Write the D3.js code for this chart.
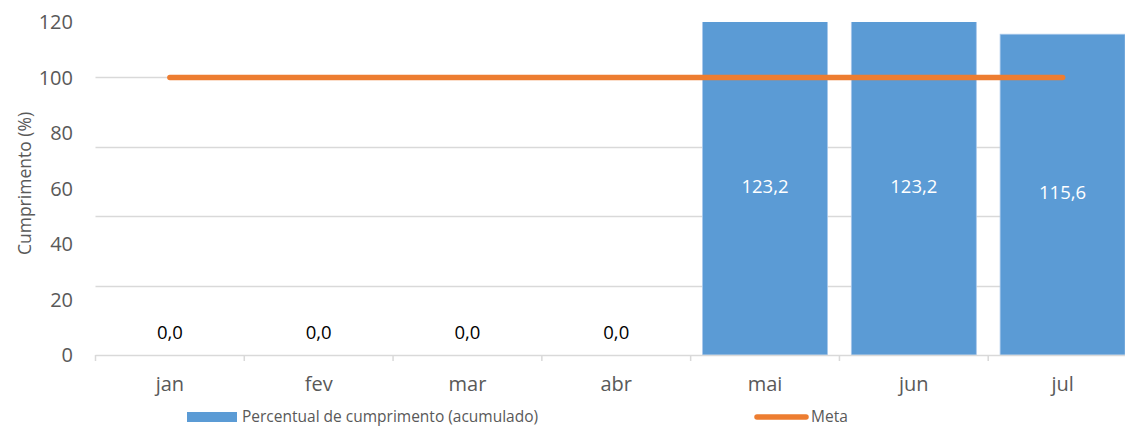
<!DOCTYPE html>
<html>
<head>
<meta charset="utf-8">
<script src="https://cdn.jsdelivr.net/npm/d3@7"></script>
<style>
  html, body { margin: 0; padding: 0; background: #fff; }
  svg { display: block; font-family: "Open Sans", "Noto Sans", sans-serif; }
</style>
</head>
<body>
<svg id="chart" width="1125" height="426"></svg>
<script>
const months = ["jan", "fev", "mar", "abr", "mai", "jun", "jul"];
const cumprimento = [0.0, 0.0, 0.0, 0.0, 123.2, 123.2, 115.6];
const meta = [100, 100, 100, 100, 100, 100, 100];
const yTicks = [0, 20, 40, 60, 80, 100, 120];
const gridValues = [25, 50, 75, 100];
const seriesNames = ["Percentual de cumprimento (acumulado)", "Meta"];
const yTitle = "Cumprimento (%)";

const svg = d3.select("#chart");
const W = 1125, H = 426;
const plot = { left: 95.5, right: 1137, top: 22, bottom: 355 };

const x = d3.scaleBand().domain(months)
  .range([plot.left, plot.right]).paddingInner(0.16).paddingOuter(0.08);
const y = d3.scaleLinear().domain([0, 120]).range([plot.bottom, plot.top]);
const step = x.step();
const fmt = v => d3.format(".1f")(v).replace(".", ",");

// clip
svg.append("defs").append("clipPath").attr("id", "plotclip")
  .append("rect").attr("x", plot.left).attr("y", plot.top)
  .attr("width", W - plot.left).attr("height", plot.bottom - plot.top);

// gridlines
svg.append("g").selectAll("line").data(gridValues).join("line")
  .attr("x1", plot.left).attr("x2", W)
  .attr("y1", d => Math.round(y(d)) + 0.5).attr("y2", d => Math.round(y(d)) + 0.5)
  .attr("stroke", "#d9d9d9").attr("stroke-width", 1.3);

// y tick labels
svg.append("g").selectAll("text").data(yTicks).join("text")
  .attr("x", 73).attr("y", d => y(d)).attr("dy", "0.36em")
  .attr("text-anchor", "end").attr("font-size", 20).attr("fill", "#595959")
  .text(d => d);

// y title
svg.append("text")
  .attr("transform", `translate(25,${(plot.top + plot.bottom) / 2 - 5}) rotate(-90)`)
  .attr("text-anchor", "middle").attr("dy", "0.35em")
  .attr("font-size", 17.5).attr("fill", "#595959").text(yTitle);

// bars
const bars = svg.append("g").attr("clip-path", "url(#plotclip)");
bars.selectAll("rect").data(months.map((m, i) => ({ m, v: cumprimento[i] })).filter(d => d.v > 0))
  .join("rect")
  .attr("x", d => x(d.m)).attr("width", x.bandwidth())
  .attr("y", d => y(d.v)).attr("height", d => y(0) - y(d.v))
  .attr("fill", "#5b9bd5").attr("stroke", "#a8c8eb").attr("stroke-width", 0.8);

// x axis line + ticks
const axis = svg.append("g");
axis.append("line").attr("x1", plot.left).attr("x2", W)
  .attr("y1", plot.bottom + 0.5).attr("y2", plot.bottom + 0.5)
  .attr("stroke", "#d9d9d9").attr("stroke-width", 1.5);
axis.selectAll("line.tick").data(months.concat(["__end"])).join("line")
  .attr("class", "tick")
  .attr("x1", (d, i) => plot.left + i * step).attr("x2", (d, i) => plot.left + i * step)
  .attr("y1", plot.bottom).attr("y2", plot.bottom + 6)
  .attr("stroke", "#d9d9d9").attr("stroke-width", 1.5);
axis.selectAll("text").data(months).join("text")
  .attr("x", d => x(d) + x.bandwidth() / 2).attr("y", 391)
  .attr("text-anchor", "middle").attr("font-size", 20).attr("fill", "#595959")
  .text(d => d);

// meta line
const line = d3.line().x((d, i) => x(months[i]) + x.bandwidth() / 2).y(d => y(d));
svg.append("path").datum(meta).attr("d", line)
  .attr("fill", "none").attr("stroke", "#ed7d31").attr("stroke-width", 5.5)
  .attr("stroke-linecap", "round");

// data labels
svg.append("g").selectAll("text").data(months.map((m, i) => ({ m, v: cumprimento[i] })))
  .join("text")
  .attr("x", d => x(d.m) + x.bandwidth() / 2)
  .attr("y", d => d.v > 0 ? (Math.max(y(d.v), plot.top) + y(0)) / 2 + 4.5 : y(0) - 16)
  .attr("text-anchor", "middle").attr("font-size", 18.5)
  .attr("fill", d => d.v > 0 ? "#ffffff" : "#000000")
  .text(d => fmt(d.v));

// legend
const lg = svg.append("g");
lg.append("rect").attr("x", 187).attr("y", 412).attr("width", 50).attr("height", 10).attr("fill", "#5b9bd5");
lg.append("text").attr("x", 242).attr("y", 421.5)
  .attr("font-size", 15.5).attr("fill", "#595959").text(seriesNames[0]);
lg.append("line").attr("x1", 757).attr("x2", 806).attr("y1", 417).attr("y2", 417)
  .attr("stroke", "#ed7d31").attr("stroke-width", 5.5).attr("stroke-linecap", "round");
lg.append("text").attr("x", 811).attr("y", 421.5)
  .attr("font-size", 15.5).attr("fill", "#595959").text(seriesNames[1]);
</script>
</body>
</html>
